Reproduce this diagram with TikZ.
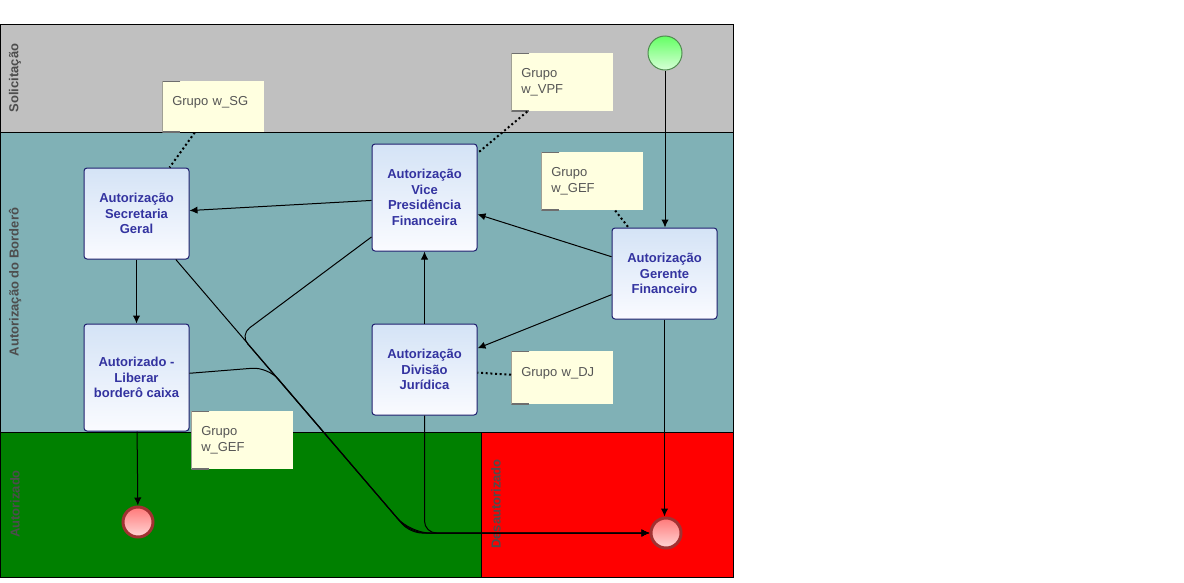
\documentclass[tikz,border=0pt]{standalone}
\usepackage{fontspec}
\setmainfont{Liberation Sans}
\usetikzlibrary{arrows.meta}

\definecolor{lanegray}{RGB}{192,192,192}
\definecolor{laneteal}{RGB}{128,177,182}
\definecolor{lanegreen}{RGB}{0,128,0}
\definecolor{lanered}{RGB}{255,0,0}
\definecolor{lanetext}{RGB}{77,77,77}
\definecolor{tasktop}{RGB}{212,227,246}
\definecolor{taskbot}{RGB}{250,251,255}
\definecolor{taskborder}{RGB}{30,30,110}
\definecolor{tasktext}{RGB}{51,51,160}
\definecolor{notefill}{RGB}{255,255,224}
\definecolor{notetext}{RGB}{85,85,85}
\definecolor{notebracket}{RGB}{110,110,110}
\definecolor{startborder}{RGB}{80,140,80}
\definecolor{starttop}{RGB}{100,255,100}
\definecolor{startbot}{RGB}{215,255,215}
\definecolor{endborder}{RGB}{160,50,50}
\definecolor{endtop}{RGB}{255,120,120}
\definecolor{endbot}{RGB}{255,215,215}

\tikzset{
  lanelabel/.style={rotate=90, text=lanetext, font=\bfseries\fontsize{9.75}{11.7}\selectfont},
  task/.style={rectangle, rounded corners=2.25pt, draw=taskborder, line width=0.75pt,
    top color=tasktop, bottom color=taskbot, minimum width=78.75pt, minimum height=68.25pt,
    align=center, text=tasktext, inner sep=2pt, font=\bfseries\fontsize{9.75}{11.6}\selectfont},
  note/.style={rectangle, fill=notefill, anchor=north west, minimum width=76.5pt,
    text width=61.5pt, inner xsep=7.5pt, align=left, text=notetext,
    font=\fontsize{9.75}{12}\selectfont,
    path picture={\draw[notebracket, line width=1.5pt]
      ([xshift=13.5pt]path picture bounding box.north west) -| (path picture bounding box.south west) -- ++(13.5pt,0);}},
  startev/.style={circle, draw=startborder, line width=0.75pt, top color=starttop, bottom color=startbot,
    minimum size=25.5pt, inner sep=0pt},
  endev/.style={circle, draw=endborder, line width=2.25pt, top color=endtop, bottom color=endbot,
    minimum size=22.5pt, inner sep=0pt},
  flow/.style={line width=0.75pt, -{Latex[length=6pt,width=5.5pt]}},
  assoc/.style={line width=1.5pt, dotted}
}

\begin{document}
\begin{tikzpicture}[x=0.75pt,y=-0.75pt]
\useasboundingbox (0,0) rectangle (1184,582);

% lanes
\fill[lanegray] (0,24) rectangle (733,132);
\fill[laneteal] (0,132) rectangle (733,432);
\fill[lanegreen] (0,432) rectangle (481,577);
\fill[lanered] (481,432) rectangle (733,577);
\draw[line width=0.75pt] (0,24) rectangle (733,577);
\draw[line width=0.75pt] (0,132) -- (733,132) (0,432) -- (733,432) (481,432) -- (481,577);

\node[lanelabel] (solic) at (15,78) {Solicitação};
\node[lanelabel] (autbord) at (15,282) {Autorização do Borderô};
\node[lanelabel] (autorizado) at (15,504) {Autorizado};
\node[lanelabel] (desaut) at (496,504) {Desautorizado};

% tasks and events
\node[task] (sg) at (136.5,213.5) {Autorização\\Secretaria\\Geral};
\node[task, minimum height=80.25pt] (vpf) at (424.5,197.5) {Autorização\\Vice\\Presidência\\Financeira};
\node[task] (gm) at (664.5,273.5) {Autorização\\Gerente\\Financeiro};
\node[task, minimum height=80.25pt] (lib) at (136.5,377.5) {Autorizado -\\Liberar\\borderô caixa};
\node[task] (dj) at (424.5,369.5) {Autorização\\Divisão\\Jurídica};

\node[startev] (start) at (665,53) {};
\node[endev] (endok) at (138,522) {};
\node[endev] (endno) at (666,533) {};

% annotations
\node[note, minimum height=38.25pt, text depth=9pt] (sgnote) at (162,81) {Grupo w\_SG};
\node[note, minimum height=43.5pt] (vpfnote) at (511,53) {Grupo\\w\_VPF};
\node[note, minimum height=43.5pt] (gefnote) at (541,152) {Grupo\\w\_GEF};
\node[note, minimum height=39.75pt, text depth=9pt] (djnote) at (511,351) {Grupo w\_DJ};
\node[note, minimum height=43.5pt] (gefnote2) at (191,411) {Grupo\\w\_GEF};

\draw[assoc] (sgnote) -- (sg);
\draw[assoc] (vpfnote) -- (vpf);
\draw[assoc] (gefnote) -- (gm);
\draw[assoc] (djnote) -- (dj);

% flows
\draw[flow] (start) -- (start |- gm.north);
\draw[flow] (gm) -- (vpf);
\draw[flow] (gm) -- (dj);
\draw[flow] (dj) -- (vpf);
\draw[flow] (vpf) -- (sg);
\draw[flow] (sg) -- (lib);
\draw[flow] (lib) -- (endok);
\draw[flow] (gm) -- (gm |- endno.north);

\coordinate (knee) at (410,533);
\coordinate (vpfbend) at (240,335);
\coordinate (libbend) at (268,367);
\draw[flow, rounded corners=15pt] (sg) -- (knee) -- (endno);
\draw[flow, rounded corners=9pt] (vpf) -- (vpfbend) -- (knee) -- (endno);
\draw[flow, rounded corners=12pt] (lib) -- (libbend) -- (knee) -- (endno);
\draw[flow, rounded corners=9pt] (dj) |- (endno);

\end{tikzpicture}
\end{document}
